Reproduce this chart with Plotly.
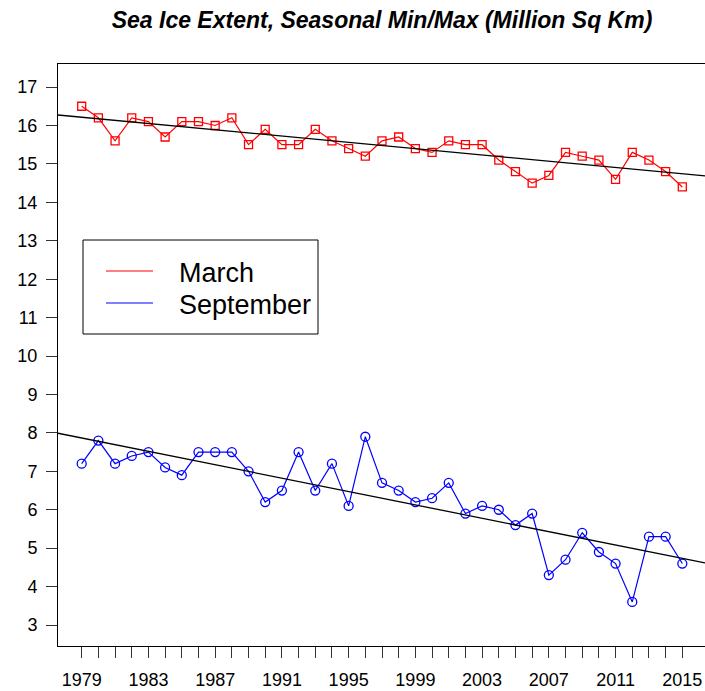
import numpy as np
import plotly.graph_objects as go

years = list(range(1979, 2016))
march = [16.5, 16.2, 15.6, 16.2, 16.1, 15.7, 16.1, 16.1, 16.0, 16.2,
         15.5, 15.9, 15.5, 15.5, 15.9, 15.6, 15.4, 15.2, 15.6, 15.7,
         15.4, 15.3, 15.6, 15.5, 15.5, 15.1, 14.8, 14.5, 14.7, 15.3,
         15.2, 15.1, 14.6, 15.3, 15.1, 14.8, 14.4]
september = [7.2, 7.8, 7.2, 7.4, 7.5, 7.1, 6.9, 7.5, 7.5, 7.5,
             7.0, 6.2, 6.5, 7.5, 6.5, 7.2, 6.1, 7.9, 6.7, 6.5,
             6.2, 6.3, 6.7, 5.9, 6.1, 6.0, 5.6, 5.9, 4.3, 4.7,
             5.4, 4.9, 4.6, 3.6, 5.3, 5.3, 4.6]
series_names = ["March", "September"]
x_tick_vals = years
x_tick_text = [str(y) if (y - 1979) % 4 == 0 else "" for y in years]
y_tick_vals = list(range(3, 18))

X_RANGE = [1977.58, 2016.36]
Y_RANGE = [2.454, 17.6]

RED = "#FF0000"
BLUE = "#0000FF"
FONT = "Liberation Sans, Arial, sans-serif"

W, H = 705, 691
ML, MR, MT, MB = 58, 0, 64, 45
PW, PH = W - ML - MR, H - MT - MB


def px_x(px):
    return (px - ML) / PW


def px_y(py):
    return (H - MB - py) / PH


fig = go.Figure()

fig.add_trace(go.Scatter(x=years, y=march, mode="lines+markers", name=series_names[0],
                         showlegend=False,
                         line=dict(color=RED, width=1.2),
                         marker=dict(symbol="square-open", size=8, color=RED, line=dict(width=1.3))))
fig.add_trace(go.Scatter(x=years, y=september, mode="lines+markers", name=series_names[1],
                         showlegend=False,
                         line=dict(color=BLUE, width=1.2),
                         marker=dict(symbol="circle-open", size=9, color=BLUE, line=dict(width=1.3))))

# linear trend lines across the whole plotting region
for series in (march, september):
    slope, intercept = np.polyfit(years, series, 1)
    xs = np.array(X_RANGE)
    fig.add_trace(go.Scatter(x=xs, y=slope * xs + intercept, mode="lines", showlegend=False,
                             line=dict(color="black", width=1.3), hoverinfo="skip"))

# legend box (drawn like R's legend())
shapes = [dict(type="rect", xref="paper", yref="paper",
               x0=px_x(83), x1=px_x(318), y0=px_y(334), y1=px_y(240),
               line=dict(color="black", width=1), fillcolor="white", layer="above")]
annotations = []
for name, color, py in zip(series_names, (RED, BLUE), (271, 303)):
    shapes.append(dict(type="line", xref="paper", yref="paper",
                       x0=px_x(106), x1=px_x(153), y0=px_y(py), y1=px_y(py),
                       line=dict(color=color, width=1.2), layer="above"))
    annotations.append(dict(text=name, xref="paper", yref="paper",
                            x=px_x(177), y=px_y(py + 2), xanchor="left", yanchor="middle",
                            showarrow=False, font=dict(family=FONT, size=27, color="black")))

fig.update_layout(
    width=W, height=H,
    margin=dict(l=ML, r=MR, t=MT, b=MB, autoexpand=False),
    paper_bgcolor="white", plot_bgcolor="white",
    font=dict(family=FONT, color="black", size=18),
    showlegend=False,
    title=dict(text="<b><i>Sea Ice Extent, Seasonal Min/Max (Million Sq Km)</i></b>",
               x=382 / W, xref="container", xanchor="center",
               y=1 - 20 / H, yref="container", yanchor="middle",
               font=dict(family=FONT, size=23, color="black")),
    shapes=shapes,
    annotations=annotations,
    xaxis=dict(range=X_RANGE, tickmode="array", tickvals=x_tick_vals, ticktext=x_tick_text,
               ticks="outside", ticklen=11, tickwidth=1, tickcolor="#333",
               showline=True, linecolor="black", linewidth=1, mirror=True,
               showgrid=False, zeroline=False, ticklabelstandoff=6,
               tickfont=dict(size=18)),
    yaxis=dict(range=Y_RANGE, tickmode="array", tickvals=y_tick_vals,
               ticks="outside", ticklen=11, tickwidth=1, tickcolor="#333",
               showline=True, linecolor="black", linewidth=1, mirror=False,
               showgrid=False, zeroline=False, ticklabelstandoff=5,
               tickfont=dict(size=18)),
)

fig.write_html("out.html", config={"displayModeBar": False},
               post_script="document.body.style.margin='0px';")
